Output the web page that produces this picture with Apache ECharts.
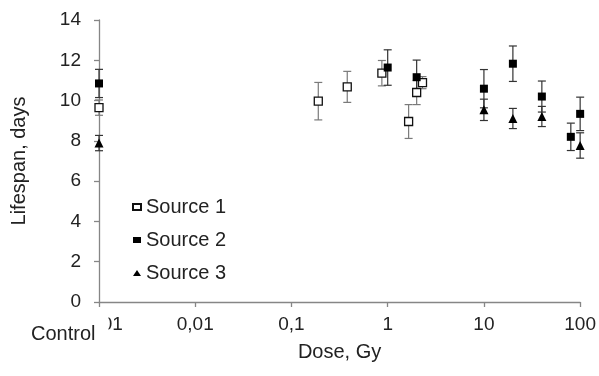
<!DOCTYPE html>
<html>
<head>
<meta charset="utf-8">
<script src="https://cdn.jsdelivr.net/npm/echarts@6/dist/echarts.min.js"></script>
<style>
  html, body { margin: 0; padding: 0; background: #fff; }
  #main { width: 599px; height: 376px; }
</style>
</head>
<body>
<div id="main"></div>
<script>
// dose (Gy); 0.001 stands for the control group
var doses1 = [0.001, 0.19, 0.38, 0.87, 1.65, 2.0, 2.3];
var life1  = [9.65, 9.97, 10.68, 11.36, 8.96, 10.4, 10.89];
var err1   = [0.38, 0.93, 0.77, 0.63, 0.84, 0.6, 0.3];

var doses2 = [0.001, 1.0, 2.0, 10, 20, 40, 80, 100];
var life2  = [10.85, 11.64, 11.16, 10.59, 11.83, 10.2, 8.2, 9.34];
var err2   = [0.7, 0.88, 0.85, 0.95, 0.88, 0.77, 0.68, 0.83];

var doses3 = [0.001, 10, 20, 40, 100];
var life3  = [7.89, 9.54, 9.11, 9.21, 7.77];
var err3   = [0.38, 0.53, 0.5, 0.5, 0.63];

var xTicks = {0.001: '0,001', 0.01: '0,01', 0.1: '0,1', 1: '1', 10: '10', 100: '100'};
var font = "'Liberation Sans', Arial, sans-serif";

function pts(d, v) {
  return d.map(function (x, i) { return [x, v[i]]; });
}
function bars(d, v, e) {
  return d.map(function (x, i) { return [x, v[i] - e[i], v[i] + e[i]]; });
}
// vertical error bar with caps
function errBar(color) {
  return function (params, api) {
    var lo = api.coord([api.value(0), api.value(1)]);
    var hi = api.coord([api.value(0), api.value(2)]);
    var w = 4;
    var st = { stroke: color, lineWidth: 1.2 };
    return {
      type: 'group',
      children: [
        { type: 'line', shape: { x1: lo[0], y1: lo[1], x2: hi[0], y2: hi[1] }, style: st },
        { type: 'line', shape: { x1: lo[0] - w, y1: lo[1], x2: lo[0] + w, y2: lo[1] }, style: st },
        { type: 'line', shape: { x1: hi[0] - w, y1: hi[1], x2: hi[0] + w, y2: hi[1] }, style: st }
      ]
    };
  };
}

var chart = echarts.init(document.getElementById('main'));
var option = {
  animation: false,
  textStyle: { fontFamily: font },
  grid: { left: 99, right: 18, top: 20, bottom: 74, containLabel: false },
  legend: {
    orient: 'vertical',
    left: 127,
    top: 192,
    itemWidth: 8,
    itemHeight: 6,
    itemGap: 13,
    textStyle: { fontSize: 20, color: '#222', fontFamily: font },
    data: ['Source 1', 'Source 2', 'Source 3']
  },
  xAxis: {
    type: 'log',
    logBase: 10,
    min: 0.001,
    max: 100,
    name: 'Dose, Gy',
    nameLocation: 'middle',
    nameGap: 40,
    nameTextStyle: { fontSize: 20, color: '#222' },
    axisLine: { lineStyle: { color: '#868686', width: 1.3 } },
    axisTick: { length: 5, lineStyle: { color: '#868686', width: 1.3 } },
    splitLine: { show: false },
    minorTick: { show: false },
    axisLabel: {
      fontSize: 19, color: '#222', margin: 13,
      formatter: function (v) { return xTicks[v] || ''; }
    }
  },
  yAxis: {
    type: 'value',
    min: 0,
    max: 14,
    interval: 2,
    name: 'Lifespan, days',
    nameLocation: 'middle',
    nameGap: 70,
    nameTextStyle: { fontSize: 20, color: '#222' },
    axisLine: { show: true, lineStyle: { color: '#868686', width: 1.3 } },
    axisTick: { show: true, length: 5, lineStyle: { color: '#868686', width: 1.3 } },
    splitLine: { show: false },
    axisLabel: { fontSize: 19, color: '#222', margin: 18 }
  },
  graphic: [{
    type: 'text',
    left: 31,
    top: 310,
    z: 100,
    style: {
      text: 'Control',
      fontSize: 20,
      fontFamily: font,
      fill: '#222',
      backgroundColor: '#fff',
      padding: [14, 13, 2, 0]
    }
  }],
  series: [
    { type: 'custom', name: 'e1', data: bars(doses1, life1, err1), renderItem: errBar('#7a7a7a'), z: 1, clip: false, silent: true },
    { type: 'custom', name: 'e2', data: bars(doses2, life2, err2), renderItem: errBar('#333'), z: 1, clip: false, silent: true },
    { type: 'custom', name: 'e3', data: bars(doses3, life3, err3), renderItem: errBar('#333'), z: 1, clip: false, silent: true },
    {
      type: 'scatter', name: 'Source 1', data: pts(doses1, life1), clip: false, z: 3,
      symbol: 'rect', symbolSize: 8,
      itemStyle: { color: '#fff', borderColor: '#111', borderWidth: 1.3, opacity: 1 }
    },
    {
      type: 'scatter', name: 'Source 2', data: pts(doses2, life2), clip: false, z: 4,
      symbol: 'rect', symbolSize: 8,
      itemStyle: { color: '#000', opacity: 1 }
    },
    {
      type: 'scatter', name: 'Source 3', data: pts(doses3, life3), clip: false, z: 4,
      symbol: 'triangle', symbolSize: 9,
      itemStyle: { color: '#000', opacity: 1 }
    }
  ]
};
chart.setOption(option);
</script>
</body>
</html>
